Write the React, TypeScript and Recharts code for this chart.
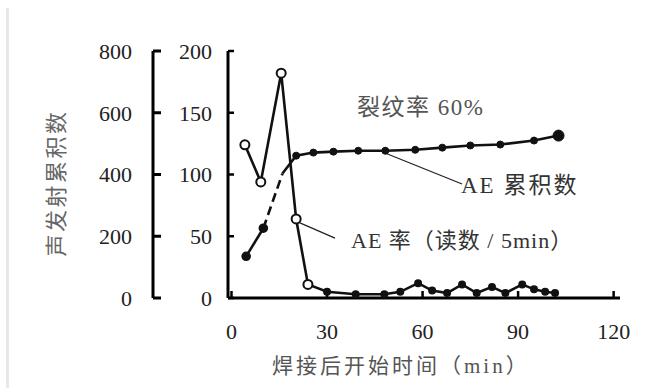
import React from "react";
import { LineChart, Line, XAxis, YAxis, ReferenceLine } from "recharts";

// time after welding (min) for each reading
const rateTimes = [4.2, 9.2, 15.6, 20.3, 24, 30, 39, 48, 53, 58.6, 63, 67.7, 72.4, 77, 81.8, 86, 91.3, 95, 98.5, 101.6];
// AE rate (counts / 5 min)
const rateValues = [124, 94, 182, 64, 11, 5, 3, 3, 5, 12, 6, 4, 11, 4, 9, 4, 11, 7, 5, 4];

const cumTimes = [4.6, 10, 16, 20.3, 25.7, 32, 39.8, 48.3, 57.7, 66.2, 75, 84.4, 95, 102.7];
// cumulative AE counts
const cumValues = [135, 226, 403, 461, 471, 474, 477, 477, 480, 487, 494, 497, 510, 526];

const xTicks = [0, 30, 60, 90, 120];
const rateTicks = [0, 50, 100, 150, 200];
const cumTicks = [0, 200, 400, 600, 800];

const serif = "'Liberation Serif', 'Noto Sans CJK SC', serif";
const cjk = "'Liberation Serif', 'Noto Sans CJK SC', sans-serif";

// axis ids: the one that sorts first sits next to the plot
const RATE = "a";
const CUM = "b";

const rateData = rateTimes.map((x, i) => ({ x, y: rateValues[i] }));
const cumPoints = cumTimes.map((x, i) => ({ x, y: cumValues[i] }));
const cumStart = cumPoints.slice(0, 2);
const cumDashed = cumPoints.slice(1, 3);
const cumMain = cumPoints.slice(2);

const CumDot = (props: any) => {
  const { cx, cy, index } = props;
  if (index === 0) return <g key={`cd-${index}`} />;
  const last = index === cumMain.length - 1;
  return <circle key={`cd-${index}`} cx={cx} cy={cy} r={last ? 5.5 : 3.5} fill="#111" stroke="#111" />;
};

const RateDot = (props: any) => {
  const { cx, cy, index } = props;
  const big = index < 5;
  return (
    <circle
      key={`rd-${index}`}
      cx={cx}
      cy={cy}
      r={big ? 4.5 : 3}
      fill={big ? "#fff" : "#111"}
      stroke="#111"
      strokeWidth={2}
    />
  );
};

export default function App() {
  const tickStyle = { fill: "#222", fontSize: 22, fontFamily: serif };
  return (
    <div style={{ position: "absolute", left: 0, top: 0, width: 646, height: 390, background: "#fff" }}>
      <div style={{ position: "absolute", left: 6, top: 8, width: 3, height: 380, background: "#e8e8e8" }} />
      <LineChart width={646} height={390} margin={{ top: 51, right: 26, left: 83, bottom: 32 }}>
        <XAxis
          xAxisId="b"
          type="number"
          dataKey="x"
          domain={[-1.1, 122]}
          ticks={xTicks}
          interval={0}
          allowDataOverflow
          height={60}
          axisLine={{ stroke: "#000", strokeWidth: 3 }}
          tickLine={{ stroke: "#000", strokeWidth: 2.5 }}
          tickSize={-7}
          tickMargin={32}
          tick={tickStyle}
        />
        <XAxis
          xAxisId="t"
          orientation="top"
          type="number"
          domain={[-1.1, 122]}
          height={0}
          tick={false}
          tickLine={false}
          axisLine={{ stroke: "#000", strokeWidth: 2.5 }}
        />
        <YAxis
          yAxisId={RATE}
          type="number"
          domain={[0, 200]}
          ticks={rateTicks}
          interval={0}
          width={75}
          axisLine={{ stroke: "#000", strokeWidth: 3 }}
          tickLine={{ stroke: "#000", strokeWidth: 2.5 }}
          tickSize={-6}
          tickMargin={22}
          tick={tickStyle}
        />
        <YAxis
          yAxisId={CUM}
          type="number"
          domain={[0, 800]}
          ticks={cumTicks}
          interval={0}
          width={70}
          axisLine={{ stroke: "#000", strokeWidth: 3 }}
          tickLine={{ stroke: "#000", strokeWidth: 3 }}
          tickSize={-8}
          tickMargin={29}
          tick={tickStyle}
        />
        <YAxis
          yAxisId="r"
          orientation="right"
          type="number"
          domain={[0, 1]}
          width={0}
          tick={false}
          tickLine={false}
          axisLine={{ stroke: "#000", strokeWidth: 2.5 }}
        />

        <ReferenceLine
          xAxisId="b"
          yAxisId={RATE}
          segment={[{ x: 48.2, y: 117.4 }, { x: 72.4, y: 92.3 }]}
          stroke="#222"
          strokeWidth={1.3}
        />
        <ReferenceLine
          xAxisId="b"
          yAxisId={RATE}
          segment={[{ x: 21.3, y: 61 }, { x: 32.5, y: 48.5 }]}
          stroke="#222"
          strokeWidth={1.3}
        />

        <Line
          xAxisId="b"
          yAxisId={CUM}
          data={cumStart}
          dataKey="y"
          stroke="#111"
          strokeWidth={2.6}
          dot={{ r: 3.5, fill: "#111", stroke: "#111" }}
          isAnimationActive={false}
        />
        <Line
          xAxisId="b"
          yAxisId={CUM}
          data={cumDashed}
          dataKey="y"
          stroke="#111"
          strokeWidth={2.6}
          strokeDasharray="9 5"
          dot={false}
          isAnimationActive={false}
        />
        <Line
          xAxisId="b"
          yAxisId={CUM}
          data={cumMain}
          dataKey="y"
          stroke="#111"
          strokeWidth={2.6}
          dot={CumDot}
          isAnimationActive={false}
        />
        <Line
          xAxisId="b"
          yAxisId={RATE}
          data={rateData}
          dataKey="y"
          stroke="#111"
          strokeWidth={2.6}
          dot={RateDot}
          isAnimationActive={false}
        />
      </LineChart>

      <div
        style={{
          position: "absolute",
          left: 57 - 80,
          top: 183 - 14,
          width: 160,
          height: 28,
          lineHeight: "28px",
          textAlign: "center",
          transform: "rotate(-90deg)",
          fontFamily: cjk,
          fontSize: 22,
          letterSpacing: 2.5,
          color: "#666",
          whiteSpace: "nowrap",
        }}
      >
        声发射累积数
      </div>
      <div style={{ position: "absolute", left: 272, top: 352, fontFamily: cjk, fontSize: 21, letterSpacing: 3, color: "#555", whiteSpace: "nowrap", lineHeight: "28px" }}>
        焊接后开始时间（min）
      </div>
      <div style={{ position: "absolute", left: 357, top: 94, fontFamily: cjk, fontSize: 23, letterSpacing: 1.5, color: "#555", whiteSpace: "nowrap", lineHeight: "28px" }}>
        裂纹率 60%
      </div>
      <div style={{ position: "absolute", left: 461, top: 172, fontFamily: cjk, fontSize: 23, letterSpacing: 2, color: "#333", whiteSpace: "nowrap", lineHeight: "28px" }}>
        AE 累积数
      </div>
      <div style={{ position: "absolute", left: 351, top: 227, fontFamily: cjk, fontSize: 22, letterSpacing: 1, color: "#333", whiteSpace: "nowrap", lineHeight: "28px" }}>
        AE 率（读数 / 5min）
      </div>
    </div>
  );
}
